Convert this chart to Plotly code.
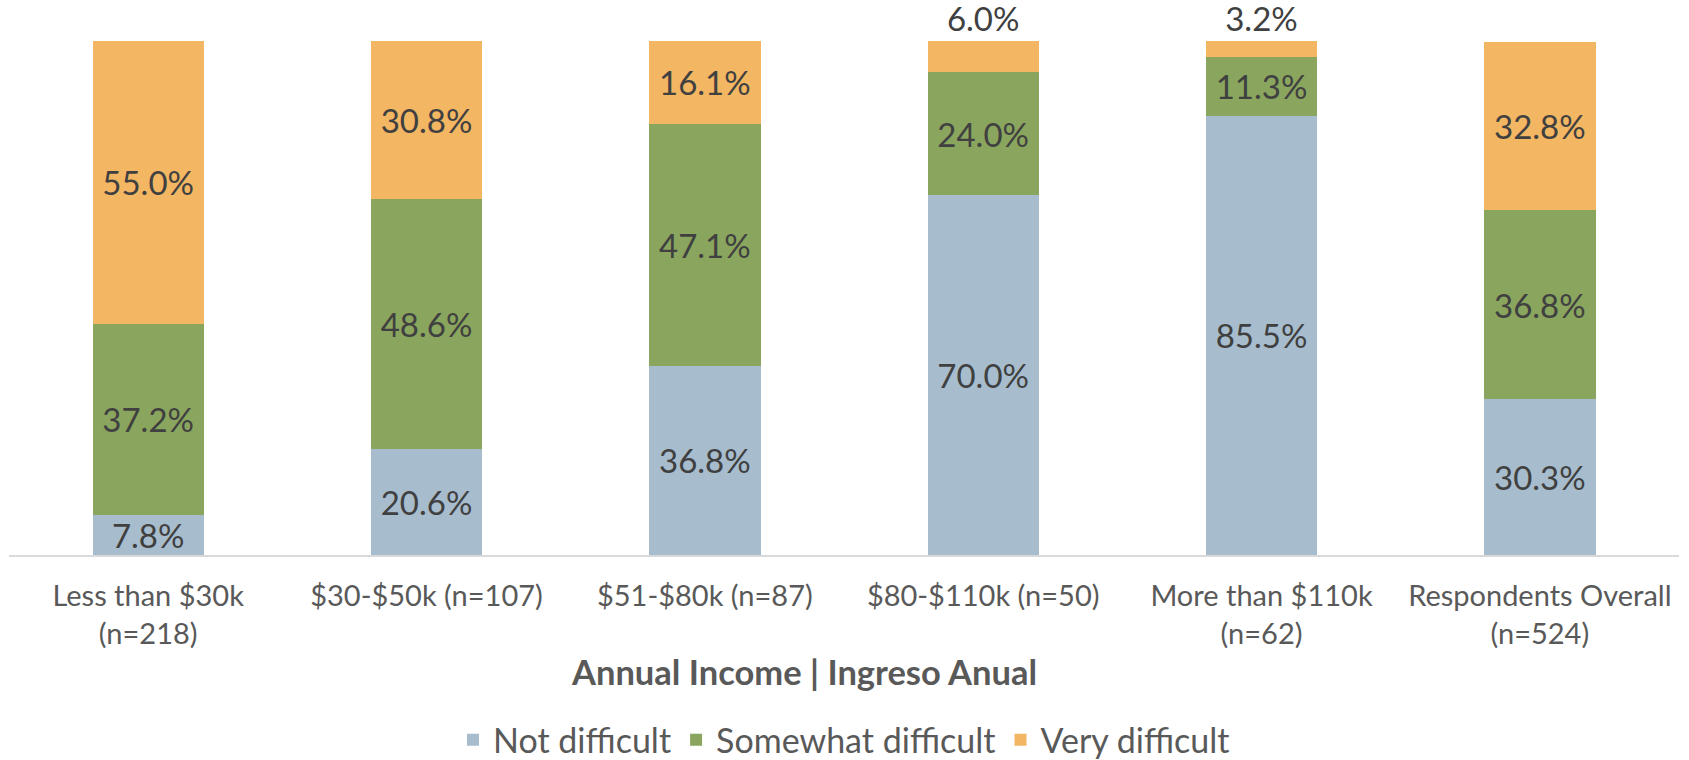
import plotly.graph_objects as go

categories = [
    "Less than $30k<br>(n=218)",
    "$30-$50k (n=107)",
    "$51-$80k (n=87)",
    "$80-$110k (n=50)",
    "More than $110k<br>(n=62)",
    "Respondents Overall<br>(n=524)",
]
not_difficult = [7.8, 20.6, 36.8, 70.0, 85.5, 30.3]
somewhat_difficult = [37.2, 48.6, 47.1, 24.0, 11.3, 36.8]
very_difficult = [55.0, 30.8, 16.1, 6.0, 3.2, 32.8]
very_pos = ["inside", "inside", "inside", "outside", "outside", "inside"]

FONT = "Lato"
LABEL = "#404040"
GRAY = "#595959"

series = [
    ("Not difficult", not_difficult, "#A7BDCE", ["inside"] * 6),
    ("Somewhat difficult", somewhat_difficult, "#8AA65E", ["inside"] * 6),
    ("Very difficult", very_difficult, "#F3B663", very_pos),
]

fig = go.Figure()
for name, vals, color, pos in series:
    fig.add_trace(go.Bar(
        name=name, x=categories, y=vals,
        marker=dict(color=color, line=dict(width=0)),
        text=[f"{v:.1f}%" for v in vals],
        textposition=pos,
        insidetextanchor="middle",
        textangle=0,
        constraintext="none",
        cliponaxis=False,
        textfont=dict(family=FONT, size=33, color=LABEL),
        outsidetextfont=dict(family=FONT, size=33, color=LABEL),
        insidetextfont=dict(family=FONT, size=33, color=LABEL),
        hoverinfo="skip",
    ))

fig.update_layout(
    barmode="stack",
    bargap=0.6,
    width=1689, height=760,
    margin=dict(l=9, r=10, t=41, b=205, autoexpand=False),
    paper_bgcolor="white", plot_bgcolor="white",
    font=dict(family=FONT, color=GRAY),
    showlegend=True,
    legend=dict(
        orientation="h", x=0.5, xanchor="center",
        yref="container", y=0.026, yanchor="middle",
        font=dict(family=FONT, size=34, color=GRAY),
        traceorder="normal",
    ),
    xaxis=dict(
        showline=True, linecolor="#D9D9D9", linewidth=2,
        ticks="outside", ticklen=14, tickcolor="rgba(0,0,0,0)",
        tickfont=dict(family=FONT, size=29, color=GRAY),
        showgrid=False, automargin=False,
    ),
    yaxis=dict(range=[0, 100], visible=False, showgrid=False, automargin=False),
    annotations=[dict(
        text="<b>Annual Income | Ingreso Anual</b>",
        xref="paper", yref="paper", x=0.476, y=-0.2276,
        xanchor="center", yanchor="middle", showarrow=False,
        font=dict(family=FONT, size=34.5, color=GRAY),
    )],
)

fig.write_html(
    "out.html",
    config={"displayModeBar": False},
    post_script="document.body.style.margin='0';document.body.style.overflow='hidden';",
)
